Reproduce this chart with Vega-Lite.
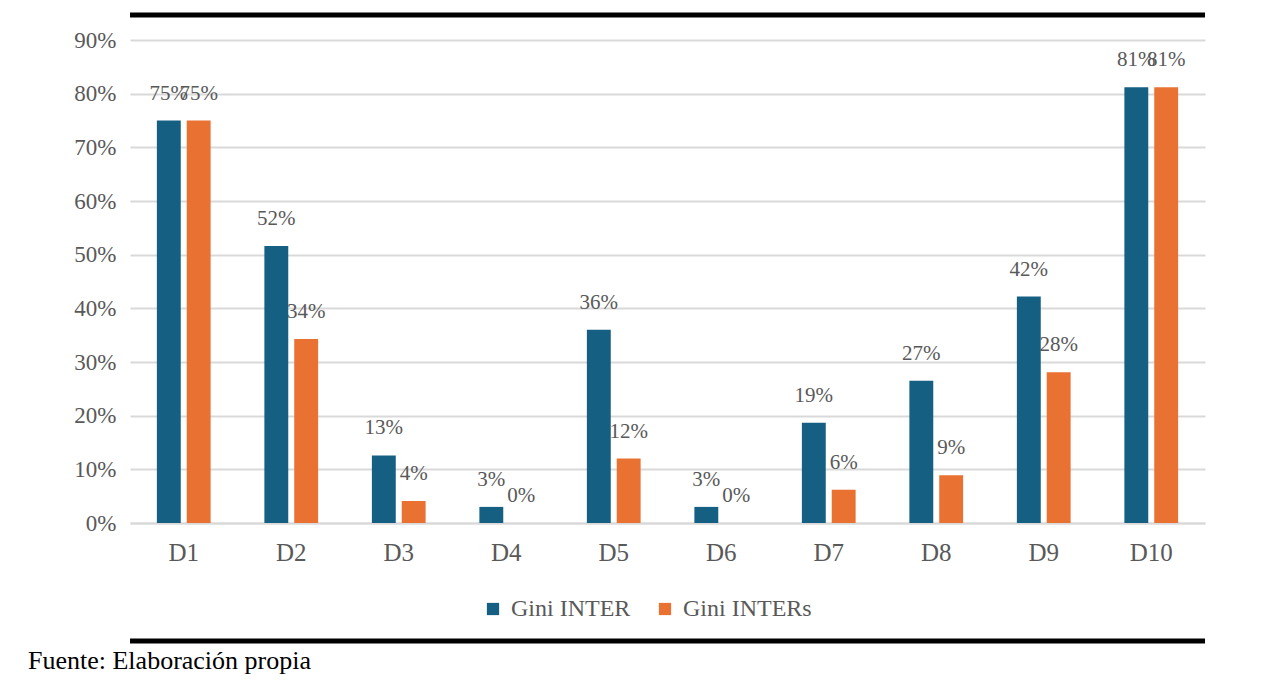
{
  "$schema": "https://vega.github.io/schema/vega-lite/v6.json",
  "autosize": {"type": "none"},
  "width": 1075,
  "height": 483,
  "padding": {"left": 130, "top": 40, "right": 73, "bottom": 160},
  "background": "white",
  "config": {
    "font": "Liberation Serif",
    "view": {"stroke": null}
  },
  "title": {
    "text": "Fuente: Elaboración propia",
    "orient": "bottom",
    "anchor": "start",
    "frame": "group",
    "dx": -102,
    "offset": 4,
    "fontSize": 26,
    "fontWeight": "normal",
    "color": "#000000",
    "font": "Liberation Serif"
  },
  "datasets": {
    "bars": [
      {"d": "D1", "serie": "Gini INTER", "v": 0.75},
      {"d": "D1", "serie": "Gini INTERs", "v": 0.75},
      {"d": "D2", "serie": "Gini INTER", "v": 0.516},
      {"d": "D2", "serie": "Gini INTERs", "v": 0.343},
      {"d": "D3", "serie": "Gini INTER", "v": 0.126},
      {"d": "D3", "serie": "Gini INTERs", "v": 0.041},
      {"d": "D4", "serie": "Gini INTER", "v": 0.03},
      {"d": "D4", "serie": "Gini INTERs", "v": 0.0},
      {"d": "D5", "serie": "Gini INTER", "v": 0.36},
      {"d": "D5", "serie": "Gini INTERs", "v": 0.12},
      {"d": "D6", "serie": "Gini INTER", "v": 0.03},
      {"d": "D6", "serie": "Gini INTERs", "v": 0.0},
      {"d": "D7", "serie": "Gini INTER", "v": 0.187},
      {"d": "D7", "serie": "Gini INTERs", "v": 0.062},
      {"d": "D8", "serie": "Gini INTER", "v": 0.265},
      {"d": "D8", "serie": "Gini INTERs", "v": 0.089},
      {"d": "D9", "serie": "Gini INTER", "v": 0.422},
      {"d": "D9", "serie": "Gini INTERs", "v": 0.281},
      {"d": "D10", "serie": "Gini INTER", "v": 0.812},
      {"d": "D10", "serie": "Gini INTERs", "v": 0.812}
    ],
    "borders": [
      {"pos": 0.9466},
      {"pos": -0.2199}
    ]
  },
  "layer": [
    {
      "data": {"name": "bars"},
      "mark": {"type": "bar"},
      "encoding": {
        "x": {
          "field": "d", "type": "nominal", "sort": null,
          "scale": {"paddingInner": 0.5, "paddingOuter": 0.25},
          "axis": {
            "title": null, "labelAngle": 0, "ticks": false,
            "domain": true, "domainColor": "#D9D9D9", "domainWidth": 2,
            "labelFontSize": 25, "labelColor": "#595959", "labelPadding": 17,
            "labelFont": "Liberation Serif"
          }
        },
        "xOffset": {
          "field": "serie", "type": "nominal",
          "scale": {"paddingInner": 0.2}
        },
        "y": {
          "field": "v", "type": "quantitative",
          "scale": {"domain": [0, 0.9], "nice": false, "zero": true},
          "axis": {
            "title": null, "format": ".0%",
            "values": [0, 0.1, 0.2, 0.3, 0.4, 0.5, 0.6, 0.7, 0.8, 0.9],
            "domain": false, "ticks": false,
            "gridColor": "#D9D9D9", "gridWidth": 2,
            "labelFontSize": 23, "labelColor": "#595959", "labelPadding": 14,
            "labelFont": "Liberation Serif"
          }
        },
        "color": {
          "field": "serie", "type": "nominal",
          "scale": {"domain": ["Gini INTER", "Gini INTERs"], "range": ["#156082", "#E97132"]},
          "legend": {
            "title": null, "orient": "none", "direction": "horizontal",
            "legendX": 351, "legendY": 557,
            "symbolType": "square", "symbolSize": 150, "symbolStrokeWidth": 0,
            "labelFontSize": 24, "labelColor": "#595959", "labelFont": "Liberation Serif",
            "columnPadding": 22, "labelOffset": 6
          }
        }
      }
    },
    {
      "data": {"name": "bars"},
      "mark": {"type": "text", "baseline": "middle", "align": "center", "dy": -27, "fontSize": 21, "color": "#595959", "font": "Liberation Serif"},
      "encoding": {
        "x": {"field": "d", "type": "nominal", "sort": null},
        "xOffset": {"field": "serie", "type": "nominal"},
        "y": {"field": "v", "type": "quantitative"},
        "text": {"field": "v", "type": "quantitative", "format": ".0%"}
      }
    },
    {
      "data": {"name": "borders"},
      "mark": {"type": "rule", "color": "#000000", "strokeWidth": 5},
      "encoding": {
        "y": {"field": "pos", "type": "quantitative"}
      }
    }
  ]
}
